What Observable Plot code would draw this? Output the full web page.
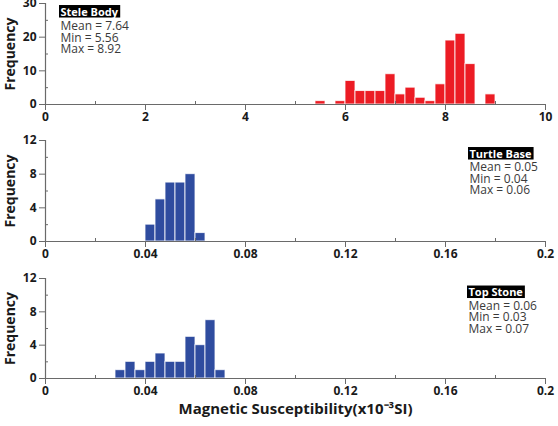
<!DOCTYPE html>
<html>
<head>
<meta charset="utf-8">
<script src="https://cdn.jsdelivr.net/npm/d3@7"></script>
<script src="https://cdn.jsdelivr.net/npm/@observablehq/plot@0.6"></script>
<style>
  body { margin: 0; background: #fff; }
  #chart { width: 558px; font-family: "Open Sans", sans-serif; }
  #chart svg { display: block; }
</style>
</head>
<body>
<div id="chart"></div>
<script>
// Stele Body — histogram bins (lower edges) and counts
const steleBinStart = [5.4, 5.8, 6.0, 6.2, 6.4, 6.6, 6.8, 7.0, 7.2, 7.4, 7.6, 7.8, 8.0, 8.2, 8.4, 8.8];
const steleCounts   = [1, 1, 7, 4, 4, 4, 9, 3, 5, 2, 1, 6, 19, 21, 12, 3];
const steleBinWidth = 0.2;
const steleStats    = [7.64, 5.56, 8.92];

// Turtle Base
const turtleBinStart = [0.040, 0.044, 0.048, 0.052, 0.056, 0.060];
const turtleCounts   = [2, 5, 7, 7, 8, 1];
const turtleBinWidth = 0.004;
const turtleStats    = [0.05, 0.04, 0.06];

// Top Stone
const topBinStart = [0.028, 0.032, 0.036, 0.040, 0.044, 0.048, 0.052, 0.056, 0.060, 0.064, 0.068];
const topCounts   = [1, 2, 1, 2, 3, 2, 2, 5, 4, 7, 1];
const topBinWidth = 0.004;
const topStats    = [0.06, 0.03, 0.07];

const statNames = ["Mean", "Min", "Max"];

// Axis ticks
const steleXTicks = [0, 2, 4, 6, 8, 10];
const steleXMinor = [1, 3, 5, 7, 9];
const steleYTicks = [0, 10, 20, 30];
const steleYMinor = [5, 15, 25];
const smallXTicks = [0, 0.04, 0.08, 0.12, 0.16, 0.2];
const smallXMinor = [0.02, 0.06, 0.10, 0.14, 0.18];
const smallYTicks = [0, 4, 8, 12];
const smallYMinor = [2, 6, 10];

const xTitle = "Magnetic Susceptibility(x10\u207B\u00B3SI)";
const yTitle = "Frequency";

const RED = "#ec1c24";
const BLUE = "#2f4c9f";
const AXIS = "#6a6a6a";
const INK = "#1a1a1a";

function panel(o) {
  const data = o.bins.map((x1, i) => ({x1, x2: x1 + o.binWidth, count: o.counts[i]}));
  const statsText = statNames.map((n, i) => `${n} = ${o.stats[i].toFixed(2)}`).join("\n");
  const marks = [
    Plot.rectY(data, {x1: "x1", x2: "x2", y: "count", fill: o.color, stroke: "white", strokeWidth: 1, strokeOpacity: 0.8}),
    Plot.ruleY([0], {stroke: AXIS, strokeWidth: 1.2}),
    Plot.ruleX([o.xDomain[0]], {stroke: AXIS, strokeWidth: 1.2}),
    Plot.axisX(o.xTicks, {tickSize: 6, tickPadding: 2, stroke: AXIS, fill: INK, fontWeight: "bold", fontSize: 12, label: null, tickFormat: d => `${d}`}),
    Plot.axisX(o.xMinor, {tickSize: 3, dy: -3, stroke: AXIS, tickFormat: () => "", label: null}),
    Plot.axisY(o.yTicks, {tickSize: 6, tickPadding: 3, stroke: AXIS, fill: INK, fontWeight: "bold", fontSize: 12, label: null, tickFormat: d => `${d}`}),
    Plot.axisY(o.yMinor, {tickSize: 3, dx: 3, stroke: AXIS, tickFormat: () => "", label: null}),
    Plot.text([yTitle], {text: d => d, frameAnchor: "left", dx: -35, rotate: -90, textAnchor: "middle", lineAnchor: "middle", fontWeight: "bold", fontSize: 14, fill: INK}),
    Plot.text([o.name], {text: d => d, frameAnchor: o.anchor, dx: o.dx, dy: o.titleDy, textAnchor: "start", lineAnchor: "middle", fontWeight: "bold", fontSize: 11, fill: "white"}),
    Plot.text([statsText], {text: d => d, frameAnchor: o.anchor, dx: o.dx, dy: o.statsDy, textAnchor: "start", lineAnchor: "top", lineHeight: 0.96, fontSize: 12, fill: "#3a3a3a"})
  ];
  if (o.xLabel) {
    marks.push(Plot.text([xTitle], {text: d => d, frameAnchor: "bottom", dy: 35, textAnchor: "middle", fontWeight: "bold", fontSize: 15, fill: INK}));
  }
  return Plot.plot({
    width: 558,
    height: o.height,
    marginLeft: 45,
    marginRight: 13,
    marginTop: o.marginTop,
    marginBottom: o.marginBottom,
    style: {fontFamily: "'Open Sans', sans-serif", background: "white", overflow: "visible"},
    x: {domain: o.xDomain},
    y: {domain: o.yDomain},
    marks
  });
}

const chart = document.getElementById("chart");
const panels = [
  {bins: steleBinStart, counts: steleCounts, binWidth: steleBinWidth, stats: steleStats, name: "Stele Body", color: RED,
   xDomain: [0, 10], xTicks: steleXTicks, xMinor: steleXMinor, yDomain: [0, 30], yTicks: steleYTicks, yMinor: steleYMinor,
   anchor: "top-left", dx: 15, titleDy: 8.5, statsDy: 18.5, height: 137, marginTop: 3, marginBottom: 33},
  {bins: turtleBinStart, counts: turtleCounts, binWidth: turtleBinWidth, stats: turtleStats, name: "Turtle Base", color: BLUE,
   xDomain: [0, 0.2], xTicks: smallXTicks, xMinor: smallXMinor, yDomain: [0, 12], yTicks: smallYTicks, yMinor: smallYMinor,
   anchor: "top-right", dx: -76, titleDy: 13.5, statsDy: 22.5, height: 137, marginTop: 3, marginBottom: 33},
  {bins: topBinStart, counts: topCounts, binWidth: topBinWidth, stats: topStats, name: "Top Stone", color: BLUE,
   xDomain: [0, 0.2], xTicks: smallXTicks, xMinor: smallXMinor, yDomain: [0, 12], yTicks: smallYTicks, yMinor: smallYMinor,
   anchor: "top-right", dx: -77, titleDy: 14, statsDy: 23, height: 152, marginTop: 4, marginBottom: 48, xLabel: true}
];

for (const p of panels) {
  const svg = panel(p);
  chart.appendChild(svg);
  // black label box behind each panel's name
  d3.select(svg).selectAll("text")
    .filter(function () { return this.textContent === p.name; })
    .each(function () {
      const b = this.getBBox();
      const rect = document.createElementNS("http://www.w3.org/2000/svg", "rect");
      rect.setAttribute("x", b.x - 1.5);
      rect.setAttribute("y", b.y + 1.5);
      rect.setAttribute("width", b.width + 3);
      rect.setAttribute("height", b.height - 2.5);
      rect.setAttribute("fill", "black");
      const t = this.getAttribute("transform");
      if (t) rect.setAttribute("transform", t);
      this.parentNode.insertBefore(rect, this);
    });
}
</script>
</body>
</html>
